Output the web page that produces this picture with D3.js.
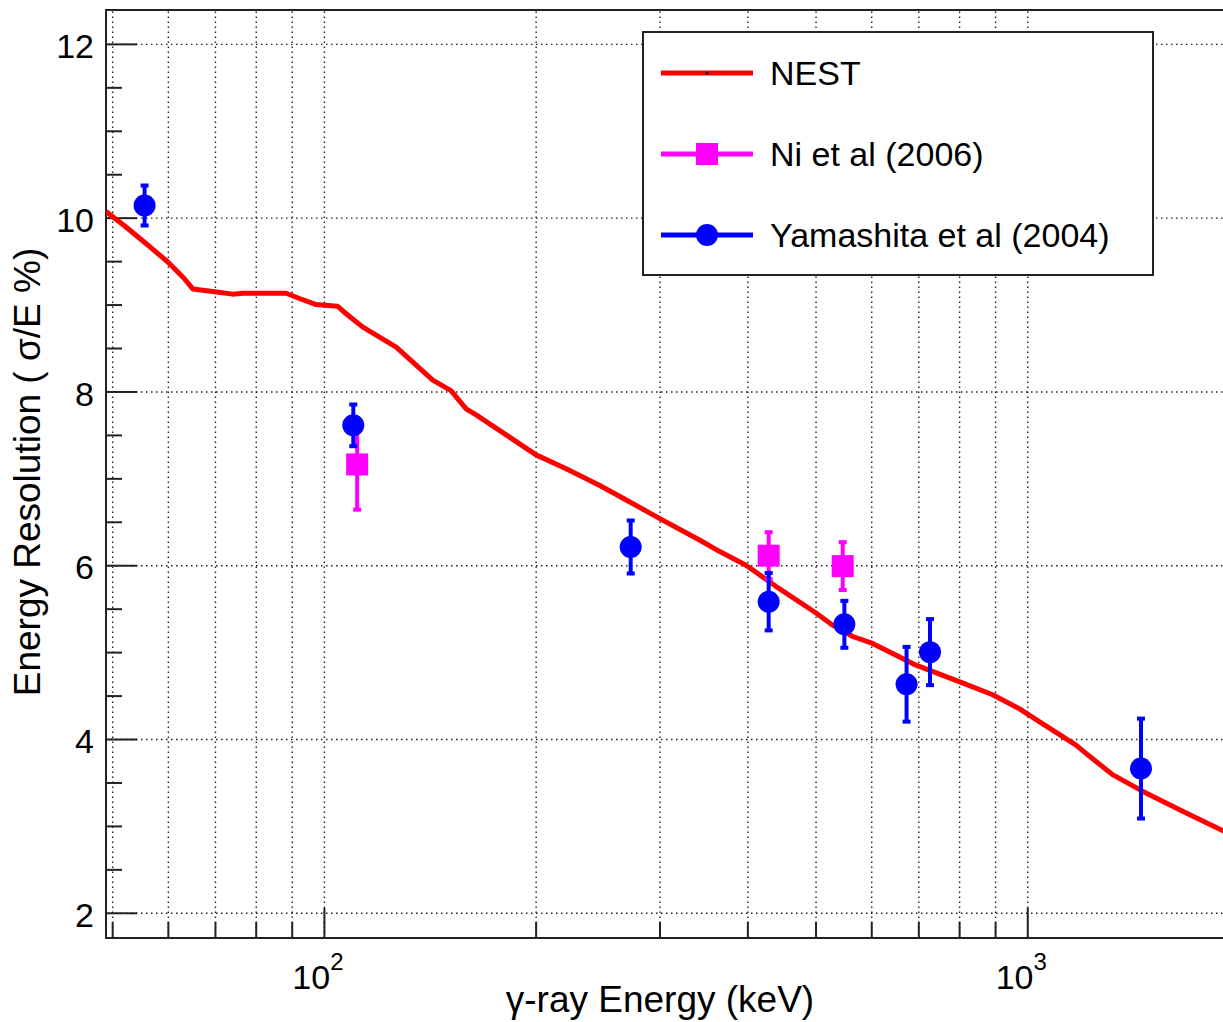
<html>
  <head>
    <title>Energy resolution vs gamma-ray energy</title>
    <script src="https://d3js.org/d3.v7.min.js"></script>
  </head>

  <body>
    <svg id="chart" height="1022" width="1223"></svg>
    <script>
      // NEST simulation curve (keV, sigma/E %)
      const nestEnergy = [49, 52, 55.9, 60, 63.3, 65.1, 69.5, 74.2, 76.7, 88.4, 92.3, 97.5, 104.6, 108.1, 113.6, 126.7,
                          142.8, 151.6, 159.3, 164.6, 181.6, 200.3, 221, 246.4, 271.9, 299.9, 342, 364.9, 398.2, 444.1,
                          500.8, 528.8, 564.7, 602.7, 694.8, 800.4, 892.8, 974.1, 1040, 1173, 1218, 1322, 1458, 1663, 1892, 2000];
      const nestRes = [10.07, 9.91, 9.70, 9.49, 9.30, 9.18, 9.15, 9.12, 9.13, 9.13, 9.07, 9.00, 8.98, 8.88, 8.74, 8.51,
                       8.13, 8.01, 7.80, 7.73, 7.50, 7.27, 7.11, 6.92, 6.73, 6.54, 6.29, 6.16, 6.00, 5.73,
                       5.45, 5.31, 5.18, 5.10, 4.85, 4.66, 4.51, 4.35, 4.20, 3.93, 3.82, 3.59, 3.40, 3.17, 2.95, 2.85];

      // Ni et al (2006)
      const niEnergy = [111.5, 428.9, 546.5];
      const niRes = [7.16, 6.11, 5.99];
      const niErr = [0.52, 0.27, 0.275];

      // Yamashita et al (2004)
      const yamEnergy = [55.6, 110.1, 273, 428.9, 549.5, 673.6, 727.3, 1451];
      const yamRes = [10.14, 7.61, 6.21, 5.58, 5.32, 4.63, 5.00, 3.66];
      const yamErr = [0.23, 0.24, 0.305, 0.33, 0.27, 0.43, 0.38, 0.575];

      const xMinorTicks = [50, 60, 70, 80, 90, 200, 300, 400, 500, 600, 700, 800, 900, 2000];
      const xMajorTicks = [100, 1000];
      const xMajorLabels = [['10', '2'], ['10', '3']];
      const yMajorTicks = [2, 4, 6, 8, 10, 12];
      const yMinorTicks = [2.5, 3, 3.5, 4.5, 5, 5.5, 6.5, 7, 7.5, 8.5, 9, 9.5, 10.5, 11, 11.5];

      const legendNames = ['NEST', 'Ni et al (2006)', 'Yamashita et al (2004)'];

      const svg = d3.select('svg#chart');
      const margins = {top: 10, left: 106};
      const chartWidth = 1133;   // right edge falls outside the picture
      const chartHeight = 928;
      const font = '"Liberation Sans", Arial, Helvetica, sans-serif';

      const xScale = d3.scaleLog().domain([49, 2000]).range([0, chartWidth]);
      const yScale = d3.scaleLinear().domain([1.71, 12.39]).range([chartHeight, 0]);

      svg.append('defs').append('clipPath').attr('id', 'plotclip')
        .append('rect').attr('width', chartWidth).attr('height', chartHeight);

      let chartArea = svg.append('g')
                         .attr('transform', `translate(${margins.left}, ${margins.top})`);

      // gridlines
      chartArea.append('g').attr('class', 'gridlines')
        .call(d3.axisLeft(yScale).tickValues(yMajorTicks).tickSize(-chartWidth).tickFormat(''));
      chartArea.append('g').attr('class', 'gridlines')
        .attr('transform', `translate(0, ${chartHeight})`)
        .call(d3.axisBottom(xScale).tickValues(xMinorTicks.concat(xMajorTicks)).tickSize(-chartHeight).tickFormat(''));

      // axis ticks (drawn inward, ROOT style)
      chartArea.append('g').attr('class', 'ticks')
        .call(d3.axisLeft(yScale).tickValues(yMajorTicks).tickSizeInner(-31).tickSizeOuter(0).tickPadding(12))
        .selectAll('text').style('font-size', '34px').attr('dy', '0.4em');
      chartArea.append('g').attr('class', 'ticks')
        .call(d3.axisLeft(yScale).tickValues(yMinorTicks).tickSizeInner(-16).tickSizeOuter(0).tickFormat(''));
      chartArea.append('g').attr('class', 'ticks')
        .attr('transform', `translate(0, ${chartHeight})`)
        .call(d3.axisBottom(xScale).tickValues(xMajorTicks).tickSizeInner(-30).tickSizeOuter(0).tickFormat(''));
      chartArea.append('g').attr('class', 'ticks')
        .attr('transform', `translate(0, ${chartHeight})`)
        .call(d3.axisBottom(xScale).tickValues(xMinorTicks).tickSizeInner(-16).tickSizeOuter(0).tickFormat(''));

      // x tick labels with exponent
      xMajorTicks.forEach((t, i) => {
        let label = chartArea.append('text')
          .attr('x', xScale(t) - 6)
          .attr('y', chartHeight + 51)
          .attr('text-anchor', 'middle')
          .style('font-family', font)
          .style('font-size', '34px');
        label.append('tspan').text(xMajorLabels[i][0]);
        label.append('tspan').attr('dy', -19).style('font-size', '24px').text(xMajorLabels[i][1]);
      });

      // frame
      chartArea.append('rect')
        .attr('width', chartWidth).attr('height', chartHeight)
        .attr('fill', 'none').attr('stroke', '#222').attr('stroke-width', 2);

      let plot = chartArea.append('g').attr('clip-path', 'url(#plotclip)');

      // NEST curve
      const line = d3.line().x((d, i) => xScale(nestEnergy[i])).y((d, i) => yScale(nestRes[i]));
      plot.append('path')
        .datum(nestRes)
        .attr('d', line)
        .attr('fill', 'none')
        .attr('stroke', '#ff0000')
        .attr('stroke-width', 5)
        .attr('stroke-linejoin', 'round');

      function drawPoints(energy, res, err, color, shape) {
        energy.forEach((e, i) => {
          let cx = xScale(e);
          let y1 = yScale(res[i] + err[i]);
          let y2 = yScale(res[i] - err[i]);
          plot.append('line')
            .attr('x1', cx).attr('x2', cx).attr('y1', y1).attr('y2', y2)
            .attr('stroke', color).attr('stroke-width', 4);
          [y1, y2].forEach(yy => {
            plot.append('rect')
              .attr('x', cx - 4).attr('y', yy - 2).attr('width', 8).attr('height', 4)
              .attr('fill', color);
          });
          if (shape === 'circle') {
            plot.append('circle').attr('cx', cx).attr('cy', yScale(res[i])).attr('r', 11).attr('fill', color);
          } else {
            plot.append('rect').attr('x', cx - 11).attr('y', yScale(res[i]) - 11)
              .attr('width', 22).attr('height', 22).attr('fill', color);
          }
        });
      }
      drawPoints(niEnergy, niRes, niErr, '#ff00ff', 'square');
      drawPoints(yamEnergy, yamRes, yamErr, '#0000ff', 'circle');

      // legend
      let legend = svg.append('g').attr('transform', 'translate(643, 32)');
      legend.append('rect')
        .attr('width', 510).attr('height', 243)
        .attr('fill', 'white').attr('stroke', '#222').attr('stroke-width', 2);
      const legendColors = ['#ff0000', '#ff00ff', '#0000ff'];
      legendNames.forEach((name, i) => {
        let ly = 41 + i * 81;
        legend.append('line').attr('x1', 18).attr('x2', 110).attr('y1', ly).attr('y2', ly)
          .attr('stroke', legendColors[i]).attr('stroke-width', 5);
        if (i === 0) {
          legend.append('circle').attr('cx', 64).attr('cy', ly).attr('r', 1.5).attr('fill', 'black');
        } else if (i === 1) {
          legend.append('rect').attr('x', 53).attr('y', ly - 11).attr('width', 22).attr('height', 22).attr('fill', legendColors[i]);
        } else {
          legend.append('circle').attr('cx', 64).attr('cy', ly).attr('r', 11).attr('fill', legendColors[i]);
        }
        legend.append('text').attr('x', 127).attr('y', ly + 12)
          .style('font-family', font).style('font-size', '34px')
          .text(name);
      });

      // axis titles
      svg.append('text')
        .attr('x', 660).attr('y', 1012)
        .attr('text-anchor', 'middle')
        .style('font-family', font).style('font-size', '37px')
        .text('γ-ray Energy (keV)');
      svg.append('text')
        .attr('transform', 'translate(40, 472) rotate(-90)')
        .attr('text-anchor', 'middle')
        .style('font-family', font).style('font-size', '37px')
        .text('Energy Resolution ( σ/E %)');
    </script>
  </body>

  <style>
    body {
      margin: 0;
      background: white;
    }

    .gridlines line {
      stroke: #222;
      stroke-width: 1.4;
      stroke-dasharray: 1.5, 3.5;
    }

    .gridlines .domain {
      stroke: none;
    }

    .ticks line {
      stroke: #222;
      stroke-width: 2;
    }

    .ticks .domain {
      stroke: none;
    }

    .ticks text {
      font-family: "Liberation Sans", Arial, Helvetica, sans-serif;
      fill: black;
    }
  </style>
</html>
